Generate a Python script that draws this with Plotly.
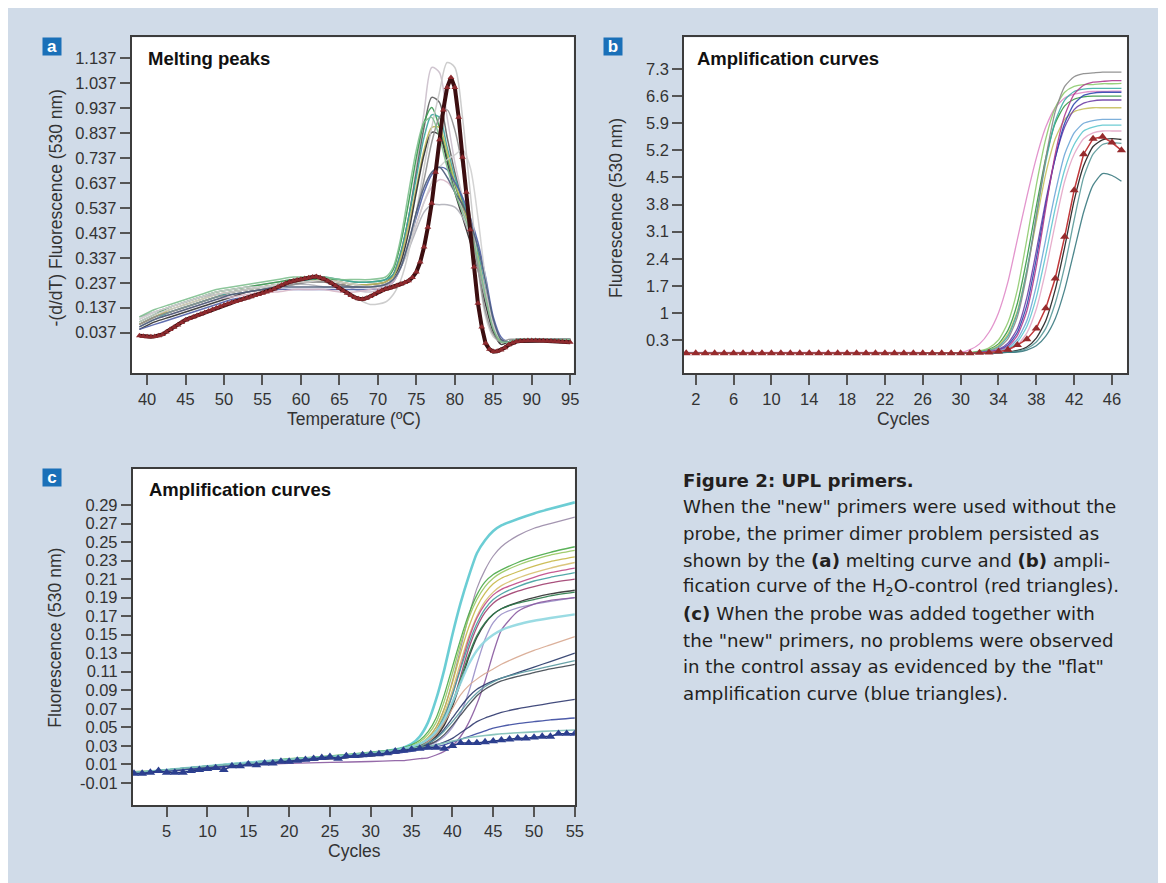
import plotly.graph_objects as go

# page offset: the html body has an 8px margin, so the figure starts at (8, 8)
OFF = 8
W, H = 1158, 875
BG = '#d0dbe8'
TXT = '#231f20'
TICKFONT = 'Liberation Sans Narrow, Liberation Sans, Arial, sans-serif'
TITLEFONT = 'Liberation Sans, Arial, sans-serif'
CAPFONT = 'DejaVu Sans, Liberation Sans, sans-serif'

# ---------------- Panel a: melting peaks ----------------
a_temp = [39, 41, 43, 45, 47, 49, 51, 53, 55, 57, 59, 61, 63, 65, 67, 69, 71,
          72, 73, 74, 75, 76, 77, 78, 79, 80, 81, 82, 83, 84, 85, 86, 87, 88, 90, 92, 95]
a_colors = ['#cbbfcb', '#5e5e5e', '#3a9a50', '#40a8a0', '#c0b858', '#303030', '#5060a8',
            '#d8b8c8', '#b0b0b8', '#c8c8c8', '#909090', '#d0d0d0', '#4a5a78', '#80c090']
a_curves = [
    [0.09, 0.12, 0.14, 0.16, 0.18, 0.2, 0.21, 0.22, 0.23, 0.24, 0.25, 0.25, 0.26, 0.24, 0.21, 0.2, 0.22,
     0.27, 0.36, 0.5, 0.7, 0.92, 1.1, 1.08, 0.9, 0.72, 0.58, 0.45, 0.3, 0.15, 0.04, 0.0, 0.0, 0.01, 0.01, 0.01, 0.01],
    [0.07, 0.1, 0.12, 0.14, 0.16, 0.18, 0.2, 0.21, 0.22, 0.23, 0.24, 0.25, 0.25, 0.24, 0.23, 0.23, 0.24,
     0.27, 0.36, 0.5, 0.68, 0.86, 0.98, 0.96, 0.82, 0.68, 0.56, 0.45, 0.32, 0.17, 0.05, 0.0, 0.0, 0.01, 0.01, 0.01, 0.01],
    [0.08, 0.11, 0.14, 0.16, 0.18, 0.2, 0.21, 0.22, 0.23, 0.24, 0.25, 0.25, 0.25, 0.25, 0.24, 0.24, 0.25,
     0.29, 0.4, 0.56, 0.74, 0.88, 0.94, 0.86, 0.74, 0.63, 0.54, 0.45, 0.34, 0.19, 0.06, 0.0, 0.0, 0.01, 0.01, 0.01, 0.01],
    [0.06, 0.09, 0.12, 0.14, 0.16, 0.18, 0.2, 0.21, 0.22, 0.23, 0.24, 0.25, 0.26, 0.25, 0.24, 0.24, 0.25,
     0.27, 0.36, 0.5, 0.66, 0.82, 0.91, 0.9, 0.78, 0.66, 0.57, 0.48, 0.36, 0.21, 0.07, 0.01, 0.0, 0.01, 0.01, 0.01, 0.01],
    [0.07, 0.1, 0.13, 0.15, 0.17, 0.19, 0.2, 0.21, 0.22, 0.23, 0.24, 0.24, 0.25, 0.24, 0.23, 0.23, 0.24,
     0.26, 0.34, 0.47, 0.62, 0.77, 0.86, 0.86, 0.76, 0.64, 0.55, 0.46, 0.34, 0.19, 0.06, 0.0, 0.0, 0.01, 0.01, 0.01, 0.01],
    [0.05, 0.08, 0.1, 0.12, 0.14, 0.16, 0.18, 0.2, 0.21, 0.22, 0.23, 0.24, 0.24, 0.23, 0.22, 0.22, 0.23,
     0.25, 0.32, 0.44, 0.6, 0.75, 0.84, 0.83, 0.72, 0.6, 0.5, 0.4, 0.29, 0.15, 0.04, -0.01, 0.0, 0.01, 0.01, 0.01, 0.01],
    [0.05, 0.07, 0.09, 0.11, 0.13, 0.15, 0.17, 0.18, 0.2, 0.21, 0.21, 0.21, 0.21, 0.21, 0.21, 0.21, 0.22,
     0.24, 0.3, 0.39, 0.5, 0.6, 0.67, 0.7, 0.69, 0.64, 0.58, 0.5, 0.4, 0.26, 0.1, 0.02, 0.0, 0.01, 0.01, 0.01, 0.01],
    [0.06, 0.09, 0.11, 0.13, 0.15, 0.17, 0.18, 0.19, 0.2, 0.2, 0.21, 0.21, 0.21, 0.2, 0.2, 0.21, 0.22,
     0.24, 0.3, 0.38, 0.47, 0.56, 0.62, 0.65, 0.64, 0.6, 0.53, 0.44, 0.33, 0.2, 0.07, 0.01, 0.0, 0.01, 0.01, 0.01, 0.01],
    [0.1, 0.12, 0.14, 0.16, 0.18, 0.19, 0.2, 0.21, 0.22, 0.22, 0.23, 0.23, 0.22, 0.22, 0.22, 0.22, 0.23,
     0.25, 0.3, 0.37, 0.45, 0.52, 0.55, 0.55, 0.55, 0.54, 0.5, 0.42, 0.3, 0.17, 0.06, 0.01, 0.0, 0.01, 0.01, 0.01, 0.01],
    [0.08, 0.11, 0.13, 0.15, 0.17, 0.19, 0.2, 0.21, 0.22, 0.23, 0.24, 0.24, 0.24, 0.22, 0.18, 0.15, 0.16,
     0.19, 0.25, 0.36, 0.52, 0.7, 0.86, 1.0, 1.12, 1.1, 0.9, 0.6, 0.3, 0.1, 0.02, 0.0, 0.0, 0.01, 0.01, 0.01, 0.01],
    [0.07, 0.1, 0.12, 0.14, 0.16, 0.18, 0.19, 0.2, 0.21, 0.22, 0.23, 0.24, 0.24, 0.23, 0.22, 0.22, 0.23,
     0.25, 0.3, 0.4, 0.52, 0.65, 0.8, 0.9, 0.93, 0.85, 0.7, 0.5, 0.3, 0.12, 0.03, 0.0, 0.01, 0.01, 0.01, 0.01, 0.01],
    [0.09, 0.12, 0.14, 0.16, 0.18, 0.2, 0.21, 0.22, 0.22, 0.23, 0.24, 0.24, 0.25, 0.24, 0.23, 0.22, 0.23,
     0.25, 0.3, 0.38, 0.47, 0.56, 0.64, 0.7, 0.73, 0.75, 0.77, 0.7, 0.5, 0.25, 0.07, 0.01, 0.0, 0.01, 0.01, 0.01, 0.01],
    [0.06, 0.09, 0.11, 0.13, 0.15, 0.17, 0.19, 0.2, 0.21, 0.22, 0.22, 0.22, 0.22, 0.22, 0.22, 0.22, 0.23,
     0.25, 0.3, 0.4, 0.52, 0.62, 0.68, 0.7, 0.66, 0.6, 0.55, 0.48, 0.38, 0.24, 0.09, 0.01, 0.0, 0.01, 0.01, 0.01, 0.01],
    [0.1, 0.13, 0.15, 0.17, 0.19, 0.21, 0.22, 0.23, 0.24, 0.25, 0.26, 0.26, 0.26, 0.25, 0.25, 0.25, 0.26,
     0.3, 0.42, 0.6, 0.77, 0.88, 0.9, 0.82, 0.7, 0.6, 0.52, 0.44, 0.33, 0.18, 0.05, 0.0, 0.0, 0.01, 0.01, 0.01, 0.01],
]
# H2O control (red triangles), every 0.5 degC from 39 to 95
a_h2o = [0.025, 0.023, 0.021, 0.021, 0.022, 0.025, 0.030, 0.040, 0.050, 0.059,
         0.068, 0.078, 0.088, 0.094, 0.100, 0.106, 0.112, 0.118, 0.124, 0.130,
         0.136, 0.142, 0.148, 0.153, 0.158, 0.162, 0.167, 0.172, 0.176, 0.181,
         0.186, 0.190, 0.195, 0.200, 0.205, 0.212, 0.220, 0.228, 0.235, 0.240,
         0.244, 0.248, 0.251, 0.254, 0.257, 0.260, 0.262, 0.258, 0.252, 0.244,
         0.235, 0.225, 0.215, 0.205, 0.195, 0.186, 0.178, 0.173, 0.171, 0.175,
         0.182, 0.190, 0.200, 0.206, 0.212, 0.216, 0.220, 0.226, 0.232, 0.238,
         0.245, 0.258, 0.280, 0.320, 0.380, 0.460, 0.556, 0.680, 0.810, 0.930,
         1.020, 1.060, 1.020, 0.900, 0.740, 0.600, 0.449, 0.300, 0.155, 0.060,
         -0.006, -0.030, -0.039, -0.038, -0.033, -0.024, -0.012, -0.005, 0.001, 0.003,
         0.004, 0.005, 0.005, 0.005, 0.004, 0.004, 0.003, 0.003, 0.002, 0.001,
         0.000, -0.001, -0.002]
a_h2o_temp = [39 + 0.5 * i for i in range(len(a_h2o))]
a_ytick_labels = ['0.037', '0.137', '0.237', '0.337', '0.437', '0.537', '0.637',
                  '0.737', '0.837', '0.937', '1.037', '1.137']
a_xtick_labels = ['40', '45', '50', '55', '60', '65', '70', '75', '80', '85', '90', '95']

# ---------------- Panel b: amplification curves (no probe) ----------------
b_cycles = [1, 5, 10, 15, 20, 25, 30, 31, 32, 33, 34, 35, 36, 37, 38, 39, 40, 41, 42, 43, 44, 45, 46, 47]
b_colors = ['#e08ac8', '#90cc70', '#3a9a48', '#c8c060', '#40b0a8', '#8a8a8a', '#7040a8', '#3048b0',
            '#b03c90', '#70a8d8', '#60c8d0', '#e4a8c8', '#202020', '#5a9a9a', '#3a7a80']
b_curves = [
    [-0.02, -0.02, -0.02, -0.02, -0.02, -0.02, -0.02, 0.05, 0.2, 0.5, 1.0, 1.8, 2.9, 4.0, 5.0, 5.8, 6.3, 6.55, 6.65, 6.7, 6.72, 6.72, 6.73, 6.73],
    [-0.03, -0.03, -0.03, -0.03, -0.03, -0.03, -0.03, -0.02, 0.02, 0.1, 0.3, 0.75, 1.6, 2.9, 4.3, 5.5, 6.3, 6.7, 6.85, 6.9, 6.9, 6.92, 6.92, 6.93],
    [-0.03, -0.03, -0.03, -0.03, -0.03, -0.03, -0.03, -0.03, 0.0, 0.06, 0.2, 0.55, 1.25, 2.4, 3.75, 5.0, 5.9, 6.35, 6.52, 6.58, 6.6, 6.6, 6.6, 6.6],
    [-0.03, -0.03, -0.03, -0.03, -0.03, -0.03, -0.03, -0.03, -0.01, 0.04, 0.16, 0.45, 1.05, 2.1, 3.35, 4.6, 5.5, 6.0, 6.2, 6.27, 6.3, 6.3, 6.3, 6.3],
    [-0.03, -0.03, -0.03, -0.03, -0.03, -0.03, -0.03, -0.03, -0.01, 0.03, 0.13, 0.4, 1.0, 2.1, 3.5, 4.9, 5.95, 6.5, 6.72, 6.78, 6.8, 6.8, 6.8, 6.8],
    [-0.03, -0.03, -0.03, -0.03, -0.03, -0.03, -0.03, -0.03, -0.02, 0.02, 0.1, 0.33, 0.9, 2.0, 3.5, 5.0, 6.2, 6.85, 7.1, 7.18, 7.2, 7.22, 7.22, 7.22],
    [-0.03, -0.03, -0.03, -0.03, -0.03, -0.03, -0.03, -0.03, -0.02, 0.0, 0.06, 0.22, 0.6, 1.4, 2.6, 3.9, 5.0, 5.8, 6.25, 6.42, 6.48, 6.5, 6.5, 6.5],
    [-0.03, -0.03, -0.03, -0.03, -0.03, -0.03, -0.03, -0.03, -0.03, -0.01, 0.04, 0.17, 0.5, 1.2, 2.4, 3.8, 5.0, 5.9, 6.4, 6.62, 6.68, 6.7, 6.7, 6.7],
    [-0.03, -0.03, -0.03, -0.03, -0.03, -0.03, -0.03, -0.03, -0.03, -0.01, 0.03, 0.13, 0.42, 1.05, 2.2, 3.7, 5.1, 6.1, 6.65, 6.88, 6.96, 6.98, 7.0, 7.0],
    [-0.03, -0.03, -0.03, -0.03, -0.03, -0.03, -0.03, -0.03, -0.03, -0.02, 0.02, 0.1, 0.32, 0.8, 1.7, 2.9, 4.1, 5.1, 5.65, 5.9, 5.97, 6.0, 6.0, 6.0],
    [-0.03, -0.03, -0.03, -0.03, -0.03, -0.03, -0.03, -0.03, -0.03, -0.03, 0.0, 0.07, 0.25, 0.65, 1.4, 2.5, 3.7, 4.7, 5.35, 5.7, 5.8, 5.85, 5.85, 5.85],
    [-0.03, -0.03, -0.03, -0.03, -0.03, -0.03, -0.03, -0.03, -0.03, -0.03, -0.01, 0.04, 0.17, 0.48, 1.1, 2.1, 3.3, 4.4, 5.1, 5.5, 5.65, 5.7, 5.7, 5.7],
    [-0.04, -0.04, -0.04, -0.04, -0.04, -0.04, -0.04, -0.04, -0.04, -0.04, -0.03, -0.01, 0.03, 0.12, 0.35, 0.8, 1.6, 2.7, 3.9, 4.8, 5.3, 5.47, 5.5, 5.48],
    [-0.03, -0.03, -0.03, -0.03, -0.03, -0.03, -0.03, -0.03, -0.03, -0.03, -0.03, -0.02, 0.01, 0.08, 0.25, 0.6, 1.25, 2.2, 3.4, 4.5, 5.1, 5.35, 5.4, 5.38],
    [-0.03, -0.03, -0.03, -0.03, -0.03, -0.03, -0.03, -0.03, -0.03, -0.03, -0.03, -0.02, -0.01, 0.04, 0.15, 0.4, 0.85, 1.6, 2.6, 3.6, 4.3, 4.6, 4.55, 4.4],
]
b_h2o = [-0.04, -0.04, -0.04, -0.04, -0.04, -0.04, -0.04, -0.04, -0.04, -0.04,
         -0.04, -0.04, -0.04, -0.04, -0.04, -0.04, -0.04, -0.04, -0.04, -0.04,
         -0.04, -0.04, -0.04, -0.04, -0.04, -0.04, -0.04, -0.04, -0.04, -0.04,
         -0.04, -0.03, -0.02, 0.0, 0.05, 0.17, 0.32, 0.60, 1.12, 1.89,
         2.97, 4.17, 5.10, 5.50, 5.55, 5.40, 5.20]
b_h2o_cycles = list(range(1, len(b_h2o) + 1))
b_ytick_labels = ['0.3', '1', '1.7', '2.4', '3.1', '3.8', '4.5', '5.2', '5.9', '6.6', '7.3']
b_xtick_labels = ['2', '6', '10', '14', '18', '22', '26', '30', '34', '38', '42', '46']

# ---------------- Panel c: amplification curves (with probe) ----------------
c_cycles = [1, 5, 10, 15, 20, 25, 30, 33, 34, 35, 36, 37, 38, 39, 40, 41, 42, 43, 44, 45, 46, 48, 50, 52, 55]
c_colors = ['#5cc8d0', '#9a8aa8', '#4aaa48', '#98c860', '#c8b848', '#d8c070', '#c04a88', '#a04070',
            '#40a0a0', '#303030', '#2a7a4a', '#9a90c8', '#8a5aa0', '#90d8e0', '#d8a890', '#2a3a6a',
            '#5a9aa0', '#404850', '#303a70', '#3a4aa0', '#80c0b8']
c_widths = [2.6, 1.2, 1.3, 1.3, 1.3, 1.3, 1.3, 1.3, 1.3, 1.3, 1.3, 1.3, 1.3, 2.4, 1.2, 1.3, 1.3, 1.3, 1.3, 1.3, 1.6]
c_curves = [
    [0.0, 0.003, 0.007, 0.011, 0.015, 0.018, 0.022, 0.026, 0.028, 0.032, 0.04, 0.055, 0.08, 0.112, 0.15, 0.184, 0.213, 0.238, 0.252, 0.262, 0.268, 0.275, 0.281, 0.286, 0.293],
    [0.0, 0.003, 0.007, 0.011, 0.014, 0.017, 0.021, 0.024, 0.026, 0.028, 0.032, 0.038, 0.05, 0.07, 0.1, 0.135, 0.17, 0.2, 0.22, 0.235, 0.245, 0.257, 0.265, 0.27, 0.277],
    [0.002, 0.004, 0.008, 0.012, 0.016, 0.019, 0.023, 0.026, 0.028, 0.031, 0.036, 0.045, 0.06, 0.085, 0.115, 0.145, 0.172, 0.193, 0.207, 0.215, 0.22, 0.228, 0.234, 0.239, 0.245],
    [0.001, 0.004, 0.008, 0.012, 0.015, 0.018, 0.022, 0.025, 0.027, 0.03, 0.034, 0.042, 0.055, 0.078, 0.108, 0.14, 0.168, 0.188, 0.202, 0.211, 0.217, 0.225, 0.231, 0.236, 0.241],
    [0.001, 0.003, 0.007, 0.011, 0.015, 0.018, 0.021, 0.024, 0.026, 0.029, 0.032, 0.039, 0.05, 0.07, 0.098, 0.13, 0.158, 0.18, 0.195, 0.205, 0.211, 0.218, 0.224, 0.229, 0.234],
    [0.002, 0.004, 0.008, 0.012, 0.015, 0.018, 0.021, 0.024, 0.026, 0.028, 0.031, 0.037, 0.047, 0.065, 0.09, 0.12, 0.148, 0.17, 0.186, 0.196, 0.203, 0.211, 0.217, 0.222, 0.228],
    [0.0, 0.003, 0.007, 0.011, 0.014, 0.017, 0.02, 0.023, 0.025, 0.027, 0.03, 0.035, 0.044, 0.06, 0.085, 0.115, 0.145, 0.168, 0.183, 0.193, 0.199, 0.206, 0.212, 0.217, 0.222],
    [0.0, 0.003, 0.007, 0.011, 0.014, 0.017, 0.02, 0.023, 0.025, 0.027, 0.029, 0.033, 0.04, 0.053, 0.075, 0.105, 0.135, 0.158, 0.174, 0.184, 0.19, 0.197, 0.202, 0.206, 0.21],
    [0.001, 0.004, 0.008, 0.012, 0.015, 0.018, 0.022, 0.025, 0.027, 0.029, 0.032, 0.037, 0.046, 0.062, 0.085, 0.113, 0.14, 0.162, 0.178, 0.188, 0.194, 0.202, 0.208, 0.212, 0.217],
    [0.0, 0.003, 0.007, 0.011, 0.014, 0.017, 0.02, 0.023, 0.025, 0.027, 0.029, 0.033, 0.04, 0.052, 0.072, 0.098, 0.125, 0.147, 0.162, 0.172, 0.178, 0.185, 0.19, 0.194, 0.198],
    [0.001, 0.004, 0.008, 0.011, 0.014, 0.017, 0.021, 0.024, 0.026, 0.028, 0.03, 0.034, 0.042, 0.055, 0.076, 0.102, 0.128, 0.149, 0.163, 0.172, 0.178, 0.184, 0.188, 0.192, 0.196],
    [0.0, 0.003, 0.006, 0.01, 0.013, 0.016, 0.019, 0.022, 0.023, 0.025, 0.027, 0.03, 0.034, 0.04, 0.05, 0.065, 0.088, 0.118, 0.145, 0.163, 0.172, 0.179, 0.183, 0.186, 0.19],
    [0.0, 0.003, 0.006, 0.009, 0.011, 0.012, 0.013, 0.014, 0.014, 0.015, 0.016, 0.017, 0.02, 0.024, 0.03, 0.04, 0.055, 0.075, 0.1, 0.13, 0.155, 0.175, 0.183, 0.187, 0.19],
    [0.001, 0.004, 0.008, 0.012, 0.015, 0.018, 0.022, 0.025, 0.027, 0.029, 0.032, 0.037, 0.045, 0.058, 0.077, 0.098, 0.118, 0.133, 0.143, 0.15, 0.155, 0.161, 0.165, 0.168, 0.172],
    [0.0, 0.003, 0.007, 0.01, 0.013, 0.016, 0.019, 0.022, 0.024, 0.026, 0.029, 0.034, 0.042, 0.055, 0.07, 0.085, 0.095, 0.102, 0.108, 0.113, 0.118, 0.126, 0.133, 0.139, 0.148],
    [0.0, 0.003, 0.007, 0.01, 0.013, 0.016, 0.019, 0.022, 0.024, 0.026, 0.028, 0.032, 0.038, 0.048, 0.06, 0.072, 0.083, 0.091, 0.096, 0.1, 0.103, 0.109, 0.115, 0.121, 0.13],
    [0.001, 0.004, 0.008, 0.011, 0.014, 0.017, 0.02, 0.023, 0.025, 0.027, 0.029, 0.033, 0.038, 0.046, 0.056, 0.067, 0.078, 0.087, 0.094, 0.099, 0.103, 0.108, 0.112, 0.116, 0.122],
    [0.0, 0.003, 0.007, 0.01, 0.013, 0.016, 0.019, 0.022, 0.024, 0.026, 0.028, 0.031, 0.035, 0.042, 0.052, 0.063, 0.074, 0.084, 0.091, 0.096, 0.1, 0.105, 0.109, 0.113, 0.118],
    [0.0, 0.003, 0.006, 0.01, 0.013, 0.016, 0.019, 0.022, 0.024, 0.025, 0.027, 0.029, 0.031, 0.034, 0.038, 0.044, 0.05, 0.056, 0.06, 0.063, 0.066, 0.07, 0.073, 0.076, 0.08],
    [0.0, 0.003, 0.006, 0.01, 0.013, 0.016, 0.019, 0.022, 0.023, 0.024, 0.026, 0.027, 0.029, 0.031, 0.034, 0.037, 0.04, 0.043, 0.046, 0.049, 0.051, 0.054, 0.056, 0.058, 0.06],
    [0.001, 0.004, 0.008, 0.011, 0.015, 0.018, 0.022, 0.025, 0.026, 0.027, 0.028, 0.029, 0.031, 0.033, 0.035, 0.037, 0.039, 0.04, 0.041, 0.042, 0.043, 0.044, 0.045, 0.046, 0.047],
]
c_ctrl = [0.000, 0.000, 0.001, 0.003, 0.001, 0.001, 0.001, 0.003, 0.004, 0.005,
          0.006, 0.004, 0.008, 0.008, 0.010, 0.009, 0.011, 0.011, 0.013, 0.013,
          0.014, 0.015, 0.016, 0.017, 0.018, 0.016, 0.019, 0.019, 0.020, 0.021,
          0.021, 0.022, 0.024, 0.025, 0.026, 0.027, 0.028, 0.028, 0.027, 0.030,
          0.033, 0.033, 0.033, 0.034, 0.035, 0.036, 0.037, 0.038, 0.038, 0.039,
          0.040, 0.040, 0.043, 0.043, 0.043]
c_ctrl_cycles = list(range(1, len(c_ctrl) + 1))
c_ytick_labels = ['-0.01', '0.01', '0.03', '0.05', '0.07', '0.09', '0.11', '0.13', '0.15',
                  '0.17', '0.19', '0.21', '0.23', '0.25', '0.27', '0.29']
c_xtick_labels = ['5', '10', '15', '20', '25', '30', '35', '40', '45', '50', '55']

caption_lines = [
    '<b>Figure 2: UPL primers.</b>',
    'When the "new" primers were used without the',
    'probe, the primer dimer problem persisted as',
    'shown by the <b>(a)</b> melting curve and <b>(b)</b> ampli-',
    'fication curve of the H<sub>2</sub>O-control (red triangles).',
    '<b>(c)</b> When the probe was added together with',
    'the "new" primers, no problems were observed',
    'in the control assay as evidenced by the "flat"',
    'amplification curve (blue triangles).',
]


# ---------------- figure ----------------
def px(x):
    return (x - OFF) / W


def py(y):
    return 1 - (y - OFF) / H


fig = go.Figure()

for vals, col in zip(a_curves, a_colors):
    fig.add_trace(go.Scatter(x=a_temp, y=vals, mode='lines', xaxis='x', yaxis='y',
                             line=dict(color=col, width=1.5, shape='spline', smoothing=0.8),
                             opacity=0.9, showlegend=False, hoverinfo='skip'))
fig.add_trace(go.Scatter(x=a_h2o_temp, y=a_h2o, mode='lines+markers', xaxis='x', yaxis='y',
                         line=dict(color='#3c0e10', width=4),
                         marker=dict(symbol='triangle-up', size=6, color='#8e2a2e'),
                         showlegend=False, hoverinfo='skip'))

for vals, col in zip(b_curves, b_colors):
    fig.add_trace(go.Scatter(x=b_cycles, y=vals, mode='lines', xaxis='x2', yaxis='y2',
                             line=dict(color=col, width=1.3, shape='spline', smoothing=0.6),
                             opacity=0.9, showlegend=False, hoverinfo='skip'))
fig.add_trace(go.Scatter(x=b_h2o_cycles, y=b_h2o, mode='lines+markers', xaxis='x2', yaxis='y2',
                         line=dict(color='#c0393b', width=1.5),
                         marker=dict(symbol='triangle-up', size=8, color='#962a2c'),
                         showlegend=False, hoverinfo='skip'))

for vals, col, w in zip(c_curves, c_colors, c_widths):
    fig.add_trace(go.Scatter(x=c_cycles, y=vals, mode='lines', xaxis='x3', yaxis='y3',
                             line=dict(color=col, width=w, shape='spline', smoothing=0.6),
                             opacity=0.9, showlegend=False, hoverinfo='skip'))
fig.add_trace(go.Scatter(x=c_ctrl_cycles, y=c_ctrl, mode='lines+markers', xaxis='x3', yaxis='y3',
                         line=dict(color='#24357a', width=1.5),
                         marker=dict(symbol='triangle-up', size=8.5, color='#2c3f8f'),
                         showlegend=False, hoverinfo='skip'))

axis_common = dict(showline=True, linecolor='#3c3c3c', linewidth=1.5, mirror=True,
                   ticks='outside', ticklen=10, tickwidth=1.5, tickcolor='#555555',
                   showgrid=False, zeroline=False,
                   tickfont=dict(family=TICKFONT, size=16.5, color='#333333'))

dom_ab_y = [py(373.3), py(37.3)]
fig.update_layout(
    width=W, height=H, margin=dict(l=0, r=0, t=0, b=0),
    paper_bgcolor=BG, plot_bgcolor='white', showlegend=False,
    xaxis=dict(axis_common, domain=[px(132.5), px(578.2)], range=[37.98, 95.46], anchor='y',
               tickvals=[float(t) for t in a_xtick_labels], ticktext=a_xtick_labels),
    yaxis=dict(axis_common, domain=dom_ab_y, range=[-0.126, 1.221], anchor='x',
               tickvals=[float(t) for t in a_ytick_labels], ticktext=a_ytick_labels),
    xaxis2=dict(axis_common, domain=[px(689.3), px(1135.7)], range=[0.76, 47.58], anchor='y2',
                tickvals=[float(t) for t in b_xtick_labels], ticktext=b_xtick_labels),
    yaxis2=dict(axis_common, domain=dom_ab_y, range=[-0.56, 8.12], anchor='x2',
                tickvals=[float(t) for t in b_ytick_labels], ticktext=b_ytick_labels),
    xaxis3=dict(axis_common, domain=[px(133.6), px(579.3)], range=[0.83, 55.0], anchor='y3',
                tickvals=[float(t) for t in c_xtick_labels], ticktext=c_xtick_labels),
    yaxis3=dict(axis_common, domain=[py(805), py(469)], range=[-0.034, 0.329], anchor='x3',
                tickvals=[float(t) for t in c_ytick_labels], ticktext=c_ytick_labels),
)

ann = []


def text(t, x, y, size, xanchor='center', yanchor='middle', angle=0, family=TITLEFONT, color='#333333'):
    ann.append(dict(text=t, x=px(x), y=py(y), xref='paper', yref='paper', showarrow=False,
                    xanchor=xanchor, yanchor=yanchor, textangle=angle,
                    font=dict(family=family, size=size, color=color)))


# axis titles
text('-(d/dT) Fluorescence (530 nm)', 56.8, 208, 17.5, angle=-90)
text('Temperature (ºC)', 356.4, 419, 17.5)
text('Fluorescence (530 nm)', 620.7, 208, 17.5, angle=-90)
text('Cycles', 910.7, 419, 17.5)
text('Fluorescence (530 nm)', 55, 638, 17.5, angle=-90)
text('Cycles', 357, 851, 17.5)

# panel titles
text('<b>Melting peaks</b>', 147, 58.3, 18.5, xanchor='left', color='#111111')
text('<b>Amplification curves</b>', 700.7, 58.3, 18.5, xanchor='left', color='#111111')
text('<b>Amplification curves</b>', 147.9, 489, 18.5, xanchor='left', color='#111111')

# panel letters
for letter, cx, cy in [('a', 52, 46.5), ('b', 618, 46.5), ('c', 52, 477.5)]:
    ann.append(dict(text='<b>' + letter + '</b>', x=px(cx), y=py(cy), xref='paper', yref='paper',
                    showarrow=False, xanchor='center', yanchor='middle', width=18, height=17,
                    borderpad=0, bgcolor='#1a70b8',
                    font=dict(family='Liberation Sans, Arial', size=17, color='white')))

# caption
for i, line in enumerate(caption_lines):
    text(line, 686, 480 + 26.7 * i, 18.2, xanchor='left', family=CAPFONT, color=TXT)

fig.update_layout(annotations=ann)
fig.write_html('out.html')
